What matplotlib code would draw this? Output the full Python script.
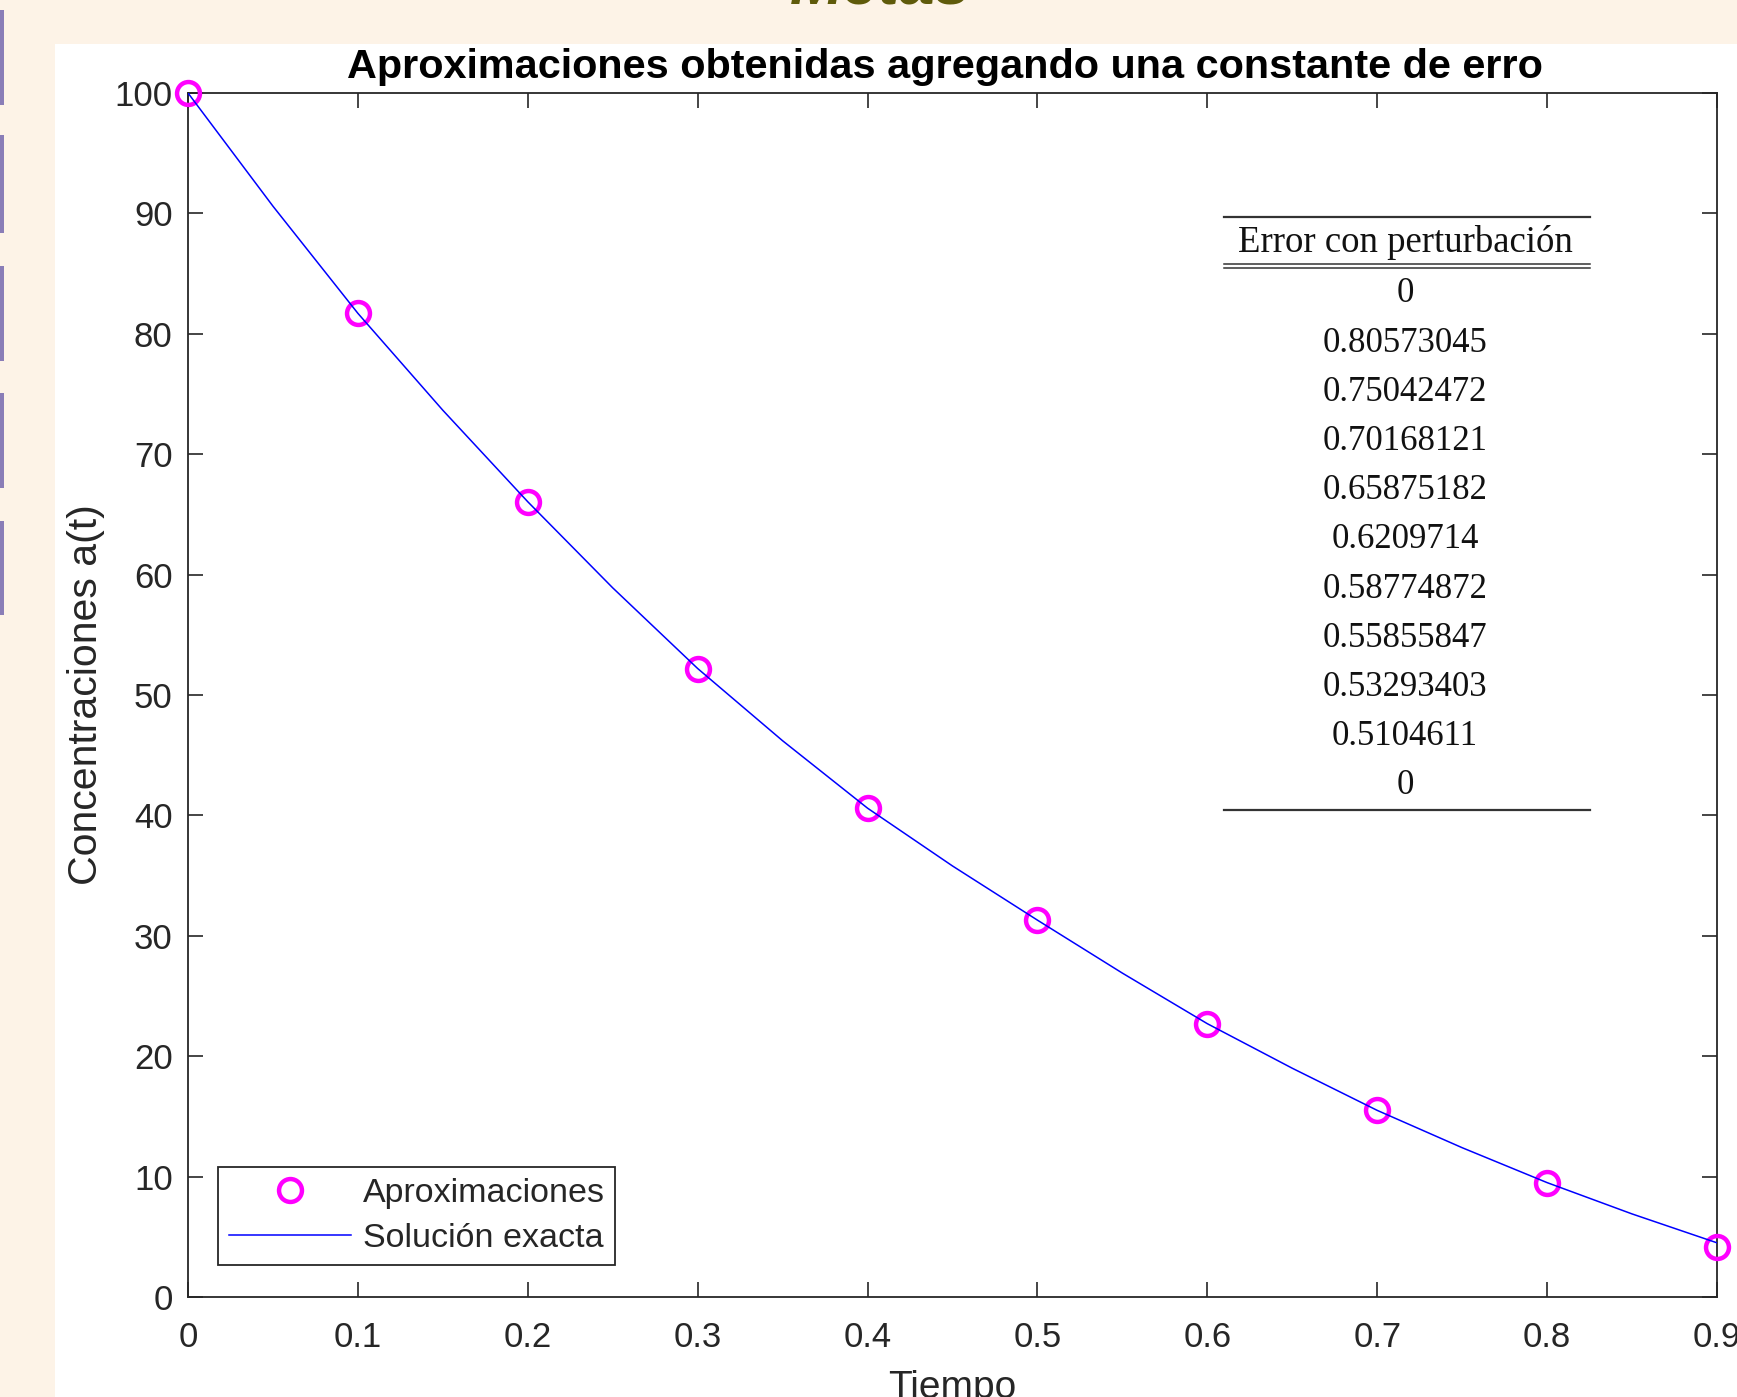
import matplotlib.pyplot as plt
from matplotlib.patches import Rectangle
from matplotlib.lines import Line2D

# datos
t_aprox = [0.0, 0.1, 0.2, 0.3, 0.4, 0.5, 0.6, 0.7, 0.8, 0.9]
a_aprox = [100.0, 81.7, 66.05, 52.2, 40.6, 31.3, 22.7, 15.5, 9.44, 4.18]

t_exacta = [0.0, 0.05, 0.1, 0.15, 0.2, 0.25, 0.3, 0.35, 0.4, 0.45,
            0.5, 0.55, 0.6, 0.65, 0.7, 0.75, 0.8, 0.85, 0.9]
a_exacta = [100.0, 90.6, 81.7, 73.65, 66.05, 58.9, 52.2, 46.2, 40.6, 35.8,
            31.3, 26.9, 22.7, 19.0, 15.5, 12.4, 9.5, 6.9, 4.5]

x_ticks = [0.0, 0.1, 0.2, 0.3, 0.4, 0.5, 0.6, 0.7, 0.8, 0.9]
x_ticklabels = ['0', '0.1', '0.2', '0.3', '0.4', '0.5', '0.6', '0.7', '0.8', '0.9']
y_ticks = [0, 10, 20, 30, 40, 50, 60, 70, 80, 90, 100]
y_ticklabels = [str(v) for v in y_ticks]

tabla_titulo = 'Error con perturbación'
tabla_valores = ['0', '0.80573045', '0.75042472', '0.70168121', '0.65875182',
                 '0.6209714', '0.58774872', '0.55855847', '0.53293403',
                 '0.5104611', '0']

W, H = 1737, 1397


def fx(x):
    return x / W


def fy(y):
    return (H - y) / H


def main():
    plt.close('all')
    fig = plt.figure(figsize=(W / 100, H / 100), dpi=100)
    fig.patch.set_facecolor('#fdf3e7')

    # panel blanco de la captura
    fig.add_artist(Rectangle((fx(55), 0), 1, fy(44), transform=fig.transFigure,
                             facecolor='white', edgecolor='none', zorder=0))
    # barras moradas del borde izquierdo
    for y0, y1 in [(10, 105), (135, 233), (266, 361), (393, 488), (521, 615)]:
        fig.add_artist(Rectangle((0, fy(y1)), fx(4), (y1 - y0) / H,
                                 transform=fig.transFigure,
                                 facecolor='#8a7db7', edgecolor='none'))
    # titulo de la diapositiva, cortado arriba
    fig.text(fx(880), fy(4), 'Metas', ha='center', va='baseline',
             fontsize=46, style='italic', fontweight='bold',
             color='#5f5a0a', family='Liberation Sans')

    ax = fig.add_axes([fx(188), fy(1297), fx(1717 - 188), (1297 - 93) / H])
    ax.set_facecolor('white')

    ax.plot(t_aprox, a_aprox, 'o', color='#ff00ff', mfc='none', ms=16.5,
            mew=3.2, label='Aproximaciones', clip_on=False, zorder=3)
    ax.plot(t_exacta, a_exacta, '-', color='#0000ff', lw=1.1,
            label='Solución exacta', zorder=4)

    ax.set_xlim(0, 0.9)
    ax.set_ylim(0, 100)
    ax.set_xticks(x_ticks)
    ax.set_xticklabels(x_ticklabels)
    ax.set_yticks(y_ticks)
    ax.set_yticklabels(y_ticklabels)

    for s in ax.spines.values():
        s.set_color('#262626')
        s.set_linewidth(1.3)
    ax.tick_params(direction='in', length=10.5, width=1.2, top=True, right=True,
                   labelsize=25, colors='#262626')
    ax.tick_params(axis='x', pad=17)
    ax.tick_params(axis='y', pad=11)
    for lab in ax.get_xticklabels() + ax.get_yticklabels():
        lab.set_family('Liberation Sans')

    ax.set_xlabel('Tiempo', fontsize=28, color='#262626',
                  family='Liberation Sans', labelpad=12)
    ax.set_ylabel('Concentraciones a(t)', fontsize=29.5, color='#262626',
                  family='Liberation Sans', labelpad=7)
    ax.set_title('Aproximaciones obtenidas agregando una constante de erro',
                 fontsize=29.8, fontweight='bold', family='Liberation Sans',
                 x=0.4948, pad=11)

    leg = ax.legend(loc='lower left', bbox_to_anchor=(0.0196, 0.0265),
                    borderaxespad=0, fancybox=False, framealpha=1,
                    edgecolor='#262626', prop={'family': 'Liberation Sans', 'size': 24.5},
                    handlelength=3.6, handletextpad=0.33, borderpad=0.32,
                    labelspacing=0.42, numpoints=1)
    leg.get_frame().set_linewidth(1.3)
    for txt in leg.get_texts():
        txt.set_color('#262626')

    # tabla superpuesta
    x0, x1, xc = 1224, 1590, 1405
    for yy, lw in [(217, 1.6), (264, 1.1), (268, 1.1), (810, 1.6)]:
        fig.add_artist(Line2D([fx(x0), fx(x1)], [fy(yy), fy(yy)],
                              transform=fig.transFigure, color='#333333', lw=lw))
    fig.text(fx(xc), fy(243), tabla_titulo, ha='center', va='center',
             fontsize=26.5, family='Liberation Serif', color='#111111')
    for i, val in enumerate(tabla_valores):
        fig.text(fx(xc), fy(294 + i * 49.2), val, ha='center', va='center',
                 fontsize=25, family='Liberation Serif', color='#111111')

    fig.savefig('out.png', dpi=100, facecolor=fig.get_facecolor())


if __name__ == '__main__':
    main()
